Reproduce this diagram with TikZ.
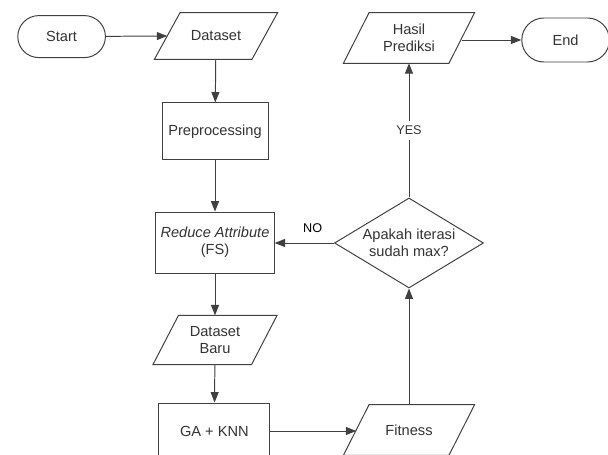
\documentclass[tikz,border=0pt]{standalone}
\usepackage{fontspec}
\setmainfont{Liberation Sans}
\usetikzlibrary{shapes.geometric,shapes.misc,arrows.meta}

\begin{document}
\begin{tikzpicture}[font=\fontsize{10.4}{12.2}\selectfont,
	line/.style={draw=black!75, line width=0.7pt},
	arr/.style={line, -{Triangle[length=2.6mm,width=2mm]}},
	term/.style={line, rounded rectangle, minimum width=2.425cm, minimum height=1.05cm, text=black!80},
	proc/.style={line, rectangle, align=center, text=black!80},
	io/.style={rectangle, align=center, minimum width=2.45cm, minimum height=1.22cm, inner sep=1pt, text=black!80,
		append after command={\pgfextra{\draw[line] ([xshift=-3.2mm]\tikzlastnode.south west) -- ([xshift=-3.2mm]\tikzlastnode.south east)
			-- ([xshift=3.2mm]\tikzlastnode.north east) -- ([xshift=3.2mm]\tikzlastnode.north west) -- cycle;}}},
	dec/.style={line, diamond, aspect=1.66, align=center, minimum width=3.725cm, minimum height=2.25cm, inner sep=0pt, text=black!80}]

	\clip (0,0) rectangle (15.2,11.375);
	\fill[white] (0,0) rectangle (15.2,11.375);

	\node[term] (start) at (1.54,10.46) {Start};
	\node[io, minimum height=1.15cm, minimum width=2.425cm] (data) at (5.4,10.475) {Dataset};
	\node[proc, minimum width=2.65cm, minimum height=1.425cm] (prep) at (5.375,8.09) {Preprocessing};
	\node[proc, minimum width=2.95cm, minimum height=1.525cm] (reduce) at (5.375,5.31) {\textit{Reduce Attribute}\\(FS)};
	\node[io] (baru) at (5.375,2.875) {Dataset\\Baru};
	\node[proc, minimum width=2.775cm, minimum height=1.4cm] (ga) at (5.36,0.6) {GA + KNN};
	\node[io, minimum height=1.25cm, minimum width=2.625cm] (fit) at (10.225,0.625) {Fitness};
	\node[dec] (iter) at (10.225,5.3) {Apakah iterasi\\sudah max?};
	\node[io, minimum height=1.25cm, minimum width=2.625cm] (hasil) at (10.225,10.425) {Hasil\\Prediksi};
	\node[term, minimum height=1.1cm] (end) at (14.14,10.375) {End};

	\draw[arr] (start) -- (data.west);
	\draw[arr] (data) -- (prep);
	\draw[arr] (prep) -- (reduce);
	\draw[arr] (reduce) -- (baru);
	\draw[arr] (baru) -- (ga);
	\draw[arr] (ga.east) -- (ga.east -| fit.west);
	\draw[arr] (fit) -- (iter);
	\draw[arr] (iter.west) -- node[pos=0.36, above=4pt, font=\fontsize{9}{10}\selectfont] {NO} (reduce.east |- iter.west);
	\draw[arr] (iter) -- node[fill=white, font=\fontsize{9}{10}\selectfont, text=black!80] {YES} (hasil);
	\draw[arr] (hasil.east |- end.west) -- (end.west);

\end{tikzpicture}
\end{document}
